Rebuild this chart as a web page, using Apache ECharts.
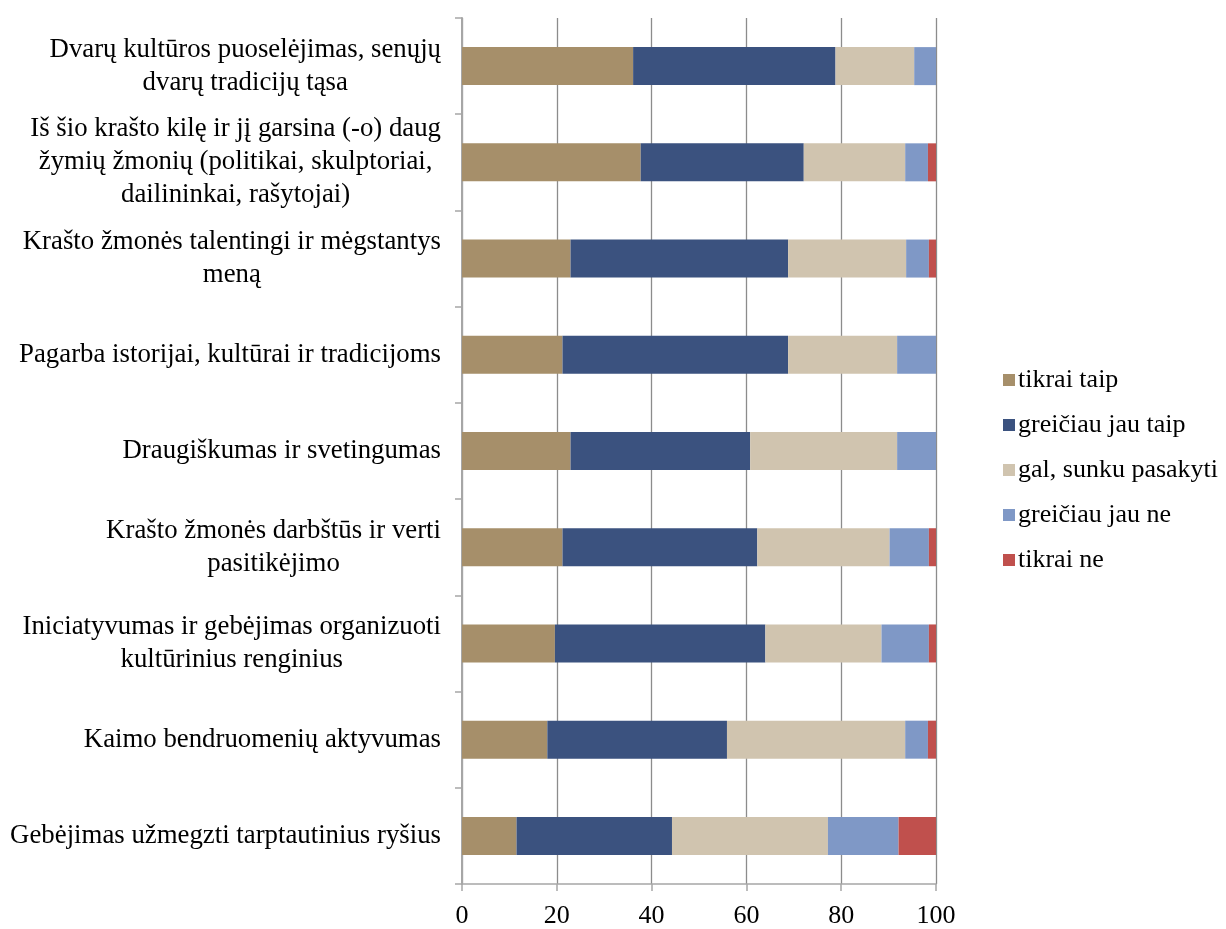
<!DOCTYPE html>
<html>
<head>
<meta charset="utf-8">
<script src="https://cdn.jsdelivr.net/npm/echarts@6/dist/echarts.min.js"></script>
<style>html,body{margin:0;padding:0;background:#fff}#chart{width:1226px;height:929px}</style>
</head>
<body>
<div id="chart"></div>
<script>
const categories = [
  "Dvarų kultūros puoselėjimas, senųjų\ndvarų tradicijų tąsa",
  "Iš šio krašto kilę ir jį garsina (-o) daug\nžymių žmonių (politikai, skulptoriai,\ndailininkai, rašytojai)",
  "Krašto žmonės talentingi ir mėgstantys\nmeną",
  "Pagarba istorijai, kultūrai ir tradicijoms",
  "Draugiškumas ir svetingumas",
  "Krašto žmonės darbštūs ir verti\npasitikėjimo",
  "Iniciatyvumas ir gebėjimas organizuoti\nkultūrinius renginius",
  "Kaimo bendruomenių aktyvumas",
  "Gebėjimas užmegzti tarptautinius ryšius"
];
const seriesNames = ["tikrai taip", "greičiau jau taip", "gal, sunku pasakyti", "greičiau jau ne", "tikrai ne"];
const tikraiTaip      = [36.1, 37.7, 22.9, 21.2, 22.9, 21.2, 19.6, 18.0, 11.5];
const greiciauTaip    = [42.7, 34.4, 45.9, 47.6, 37.9, 41.1, 44.4, 37.9, 32.8];
const galSunku        = [16.6, 21.4, 24.9, 23.0, 31.0, 27.9, 24.5, 37.6, 32.9];
const greiciauNe      = [4.6, 4.8, 4.8, 8.2, 8.2, 8.3, 10.0, 4.8, 14.9];
const tikraiNe        = [0, 1.7, 1.5, 0, 0, 1.5, 1.5, 1.7, 7.9];
const xTicks = [0, 20, 40, 60, 80, 100];

const colors = ["#A68F6A", "#3B527F", "#D0C4AF", "#7F98C6", "#C0504D"];
const font = "'Liberation Serif', 'Times New Roman', serif";
const values = [tikraiTaip, greiciauTaip, galSunku, greiciauNe, tikraiNe];

const chart = echarts.init(document.getElementById('chart'), null, {renderer: 'canvas'});
chart.setOption({
  animation: false,
  backgroundColor: '#fff',
  color: colors,
  grid: {left: 462, right: 290, top: 18, bottom: 42, containLabel: false},
  legend: {
    orient: 'vertical',
    left: 998,
    top: 362,
    itemWidth: 12,
    itemHeight: 12,
    itemGap: 19,
    icon: 'rect',
    textStyle: {fontFamily: font, fontSize: 26, color: '#000', lineHeight: 26, padding: [0, 0, 0, -2]},
    data: seriesNames
  },
  xAxis: {
    type: 'value',
    min: xTicks[0],
    max: xTicks[xTicks.length - 1],
    interval: 20,
    axisLine: {show: true, lineStyle: {color: '#A6A6A6', width: 1.5}},
    axisTick: {show: true, length: 7, lineStyle: {color: '#A6A6A6', width: 1.5}},
    axisLabel: {fontFamily: font, fontSize: 26, color: '#000', margin: 19},
    splitLine: {show: true, lineStyle: {color: '#8C8C8C', width: 1.3}}
  },
  yAxis: {
    type: 'category',
    inverse: true,
    data: categories,
    axisLine: {show: true, lineStyle: {color: '#A6A6A6', width: 2}},
    axisTick: {show: true, length: 7, lineStyle: {color: '#A6A6A6', width: 1.5}},
    axisLabel: {
      margin: 21,
      align: 'right',
      formatter: function (v) {
        return v.split('\n').map(function (s) { return '{c|' + s + '}'; }).join('\n');
      },
      rich: {
        c: {fontFamily: font, fontSize: 26.8, color: '#000', lineHeight: 33, align: 'center'}
      }
    }
  },
  series: seriesNames.map(function (name, i) {
    return {
      name: name,
      type: 'bar',
      stack: 'total',
      barWidth: 38,
      data: values[i],
      itemStyle: {color: colors[i]}
    };
  })
});
</script>
</body>
</html>
